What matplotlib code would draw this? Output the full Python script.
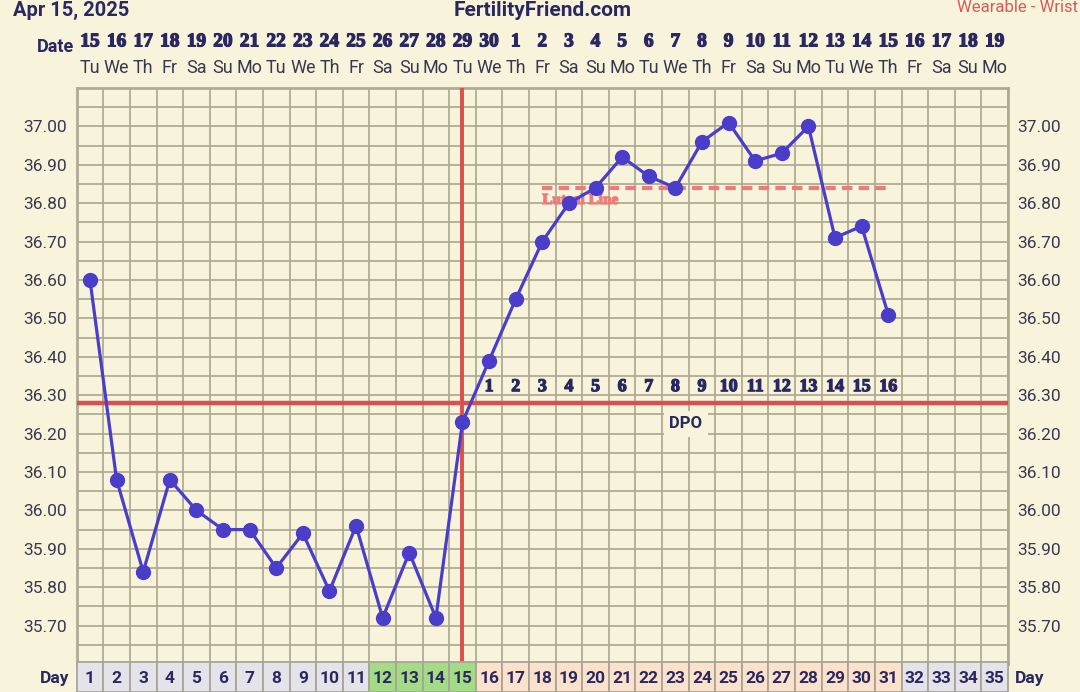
import matplotlib.pyplot as plt
import matplotlib.patheffects as pe
from matplotlib.patches import Rectangle

# chart data
days = list(range(1, 36))
dates = [15, 16, 17, 18, 19, 20, 21, 22, 23, 24, 25, 26, 27, 28, 29, 30,
         1, 2, 3, 4, 5, 6, 7, 8, 9, 10, 11, 12, 13, 14, 15, 16, 17, 18, 19]
weekdays = ['Tu', 'We', 'Th', 'Fr', 'Sa', 'Su', 'Mo'] * 5
temps = [36.60, 36.08, 35.84, 36.08, 36.00, 35.95, 35.95, 35.85, 35.94, 35.79,
         35.96, 35.72, 35.89, 35.72, 36.23, 36.39, 36.55, 36.70, 36.80, 36.84,
         36.92, 36.87, 36.84, 36.96, 37.01, 36.91, 36.93, 37.00, 36.71, 36.74,
         36.51]
coverline = 36.28
ovulation_day = 15
luteal_level = 36.84
luteal_start, luteal_end = 18, 31
dpo = list(range(1, 17))
ytick_vals = [35.70, 35.80, 35.90, 36.00, 36.10, 36.20, 36.30, 36.40, 36.50,
              36.60, 36.70, 36.80, 36.90, 37.00]

bg = '#f8f4dc'
navy = '#2b2760'
grid_c = '#b0ab95'
line_c = '#4a3dca'
red = '#d9504e'
salmon = '#ee7b78'
thick = [pe.withStroke(linewidth=0.9, foreground=navy)]

fig = plt.figure(figsize=(10.8, 6.92), dpi=100, facecolor=bg)
ax = fig.add_axes([0.0710, 0.0405, 0.8623, 0.8324], facecolor=bg)
ax.set_xlim(0.5, 35.5)
ax.set_ylim(35.60, 37.10)

# grid
for i in range(36):
    ax.axvline(0.5 + i, color=grid_c, lw=1.3, zorder=1)
y = 35.60
while y < 37.11:
    ax.axhline(y, color=grid_c, lw=1.3, zorder=1)
    y += 0.05
for s in ax.spines.values():
    s.set_color(grid_c)
    s.set_linewidth(2)

# ticks both sides
ax.set_yticks(ytick_vals)
ax.set_yticklabels(['%.2f' % v for v in ytick_vals])
ax.tick_params(axis='y', length=0, labelsize=12.5, labelcolor='#3a3850',
               left=True, right=True, labelleft=True, labelright=True, pad=7)
for lab in ax.get_yticklabels():
    lab.set_family('Roboto')
ax.set_xticks([])

# lines
ax.axhline(coverline, color=red, lw=3.2, zorder=3)
ax.axvline(ovulation_day, color=red, lw=2.8, zorder=3)
ax.plot([luteal_start, luteal_end], [luteal_level, luteal_level], color=salmon,
        lw=3, ls=(0, (2.5, 1.5)), zorder=2)
ax.text(luteal_start, luteal_level - 0.016, 'Luteal Line', color=salmon,
        fontsize=11, fontweight='bold', family='Liberation Serif',
        ha='left', va='top', zorder=2,
        path_effects=[pe.withStroke(linewidth=0.9, foreground=salmon)])

ax.plot(days[:len(temps)], temps, color=line_c, lw=2.3, marker='o',
        markersize=10, zorder=5)

# DPO numbers
for d in dpo:
    ax.text(ovulation_day + d, coverline + 0.02, str(d), color=navy,
            fontsize=13, fontweight='bold', family='Liberation Serif',
            ha='center', va='bottom', zorder=4, path_effects=thick)
ax.text(23.4, 36.225, 'DPO', color=navy, fontsize=12, fontweight='bold',
        family='Roboto', ha='center', va='center', zorder=4,
        bbox=dict(facecolor=bg, edgecolor='none', pad=4))

# date header rows
trans = ax.get_xaxis_transform()
for d, dt, wd in zip(days, dates, weekdays):
    ax.text(d, 1.080, str(dt), transform=trans, ha='center', va='center',
            fontsize=14, fontweight='bold', family='Liberation Serif',
            color=navy, clip_on=False, path_effects=thick)
    ax.text(d, 1.035, wd, transform=trans, ha='center', va='center',
            fontsize=13, family='Roboto', color='#3a3850', clip_on=False)
fig.text(55 / 1080, 1 - 47 / 692, 'Date', ha='center', va='center',
         fontsize=13, fontweight='bold', family='Roboto', color=navy)

# titles
fig.text(13 / 1080, 1 - 10 / 692, 'Apr 15, 2025', ha='left', va='center',
         fontsize=14.5, fontweight='bold', family='Roboto', color=navy)
fig.text(543 / 1080, 1 - 10 / 692, 'FertilityFriend.com', ha='center',
         va='center', fontsize=15, fontweight='bold', family='Roboto',
         color=navy)
fig.text(1078 / 1080, 1 - 7 / 692, 'Wearable - Wrist', ha='right',
         va='center', fontsize=12, family='Roboto', color='#d65a59')

# day row
dax = fig.add_axes([0.0710, 0.0, 0.8623, 27 / 692], facecolor=bg)
dax.set_xlim(0.5, 35.5)
dax.set_ylim(0, 1)
dax.axis('off')
for d in days:
    if d <= 11 or d >= 32:
        c = '#e4e3ea'
    elif d <= 15:
        c = '#a4dc86'
    else:
        c = '#fde2cb'
    dax.add_patch(Rectangle((d - 0.5, 0), 1, 1.1, facecolor=c,
                            edgecolor='#a8a597', lw=1.3, clip_on=False))
    dax.text(d, 0.5, str(d), ha='center', va='center', fontsize=12.5,
             fontweight='bold', family='Roboto', color=navy)
fig.text(55 / 1080, 1 - 678 / 692, 'Day', ha='center', va='center',
         fontsize=12.5, fontweight='bold', family='Roboto', color=navy)
fig.text(1030 / 1080, 1 - 678 / 692, 'Day', ha='center', va='center',
         fontsize=12.5, fontweight='bold', family='Roboto', color=navy)

fig.savefig('out.png', dpi=100, facecolor=bg)
